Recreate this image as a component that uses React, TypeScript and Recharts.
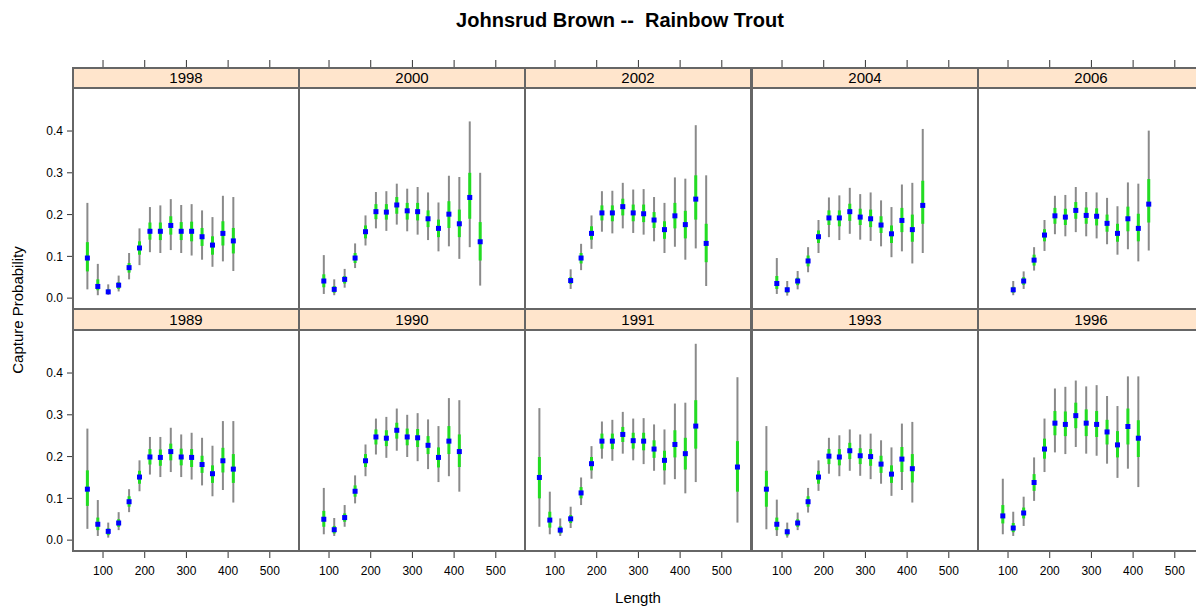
import React from 'react'
import { ComposedChart, Scatter, ErrorBar, XAxis, YAxis } from 'recharts'

// length classes (mm) and estimates
const len1998 = [62.5, 87.5, 112.5, 137.5, 162.5, 187.5, 212.5, 237.5, 262.5, 287.5, 312.5, 337.5, 362.5, 387.5, 412.5]
const est1998 = [0.096, 0.028, 0.015, 0.031, 0.073, 0.12, 0.16, 0.16, 0.174, 0.16, 0.16, 0.147, 0.127, 0.155, 0.137]
const ci1998 = [[0.021, 0.228], [0.007, 0.082], [0.008, 0.033], [0.016, 0.054], [0.045, 0.108], [0.079, 0.167], [0.11, 0.218], [0.108, 0.222], [0.115, 0.237], [0.108, 0.223], [0.102, 0.225], [0.092, 0.21], [0.075, 0.194], [0.088, 0.245], [0.065, 0.242]]
const se1998 = [[0.064, 0.134], [0.019, 0.045], [0.01, 0.021], [0.022, 0.038], [0.061, 0.084], [0.104, 0.136], [0.14, 0.181], [0.139, 0.181], [0.152, 0.196], [0.139, 0.182], [0.136, 0.183], [0.125, 0.168], [0.104, 0.148], [0.126, 0.184], [0.107, 0.168]]

const len2000 = [87.5, 112.5, 137.5, 162.5, 187.5, 212.5, 237.5, 262.5, 287.5, 312.5, 337.5, 362.5, 387.5, 412.5, 437.5, 462.5]
const est2000 = [0.041, 0.021, 0.045, 0.096, 0.159, 0.207, 0.206, 0.223, 0.209, 0.207, 0.19, 0.167, 0.201, 0.178, 0.241, 0.135]
const ci2000 = [[0.01, 0.103], [0.007, 0.045], [0.025, 0.07], [0.072, 0.131], [0.126, 0.198], [0.167, 0.254], [0.161, 0.256], [0.176, 0.274], [0.16, 0.262], [0.152, 0.266], [0.139, 0.253], [0.112, 0.229], [0.124, 0.293], [0.094, 0.29], [0.122, 0.423], [0.03, 0.3]]
const se2000 = [[0.026, 0.057], [0.013, 0.029], [0.035, 0.053], [0.084, 0.108], [0.143, 0.174], [0.189, 0.225], [0.188, 0.225], [0.202, 0.242], [0.188, 0.228], [0.186, 0.228], [0.17, 0.21], [0.146, 0.188], [0.168, 0.232], [0.146, 0.212], [0.19, 0.3], [0.09, 0.182]]

const len2002 = [137.5, 162.5, 187.5, 212.5, 237.5, 262.5, 287.5, 312.5, 337.5, 362.5, 387.5, 412.5, 437.5, 462.5]
const est2002 = [0.042, 0.096, 0.155, 0.204, 0.204, 0.219, 0.204, 0.202, 0.187, 0.164, 0.197, 0.176, 0.237, 0.131]
const ci2002 = [[0.022, 0.069], [0.067, 0.13], [0.118, 0.198], [0.159, 0.256], [0.155, 0.257], [0.167, 0.276], [0.156, 0.26], [0.152, 0.261], [0.136, 0.242], [0.108, 0.228], [0.123, 0.289], [0.092, 0.286], [0.119, 0.414], [0.029, 0.294]]
const se2002 = [[0.034, 0.05], [0.083, 0.108], [0.14, 0.172], [0.186, 0.222], [0.184, 0.222], [0.198, 0.238], [0.184, 0.224], [0.182, 0.224], [0.168, 0.206], [0.142, 0.184], [0.167, 0.228], [0.143, 0.209], [0.188, 0.294], [0.086, 0.178]]

const len2004 = [87.5, 112.5, 137.5, 162.5, 187.5, 212.5, 237.5, 262.5, 287.5, 312.5, 337.5, 362.5, 387.5, 412.5, 437.5]
const est2004 = [0.035, 0.02, 0.041, 0.089, 0.147, 0.192, 0.192, 0.207, 0.194, 0.19, 0.175, 0.154, 0.186, 0.164, 0.222]
const ci2004 = [[0.01, 0.096], [0.006, 0.041], [0.021, 0.065], [0.062, 0.122], [0.108, 0.187], [0.146, 0.241], [0.139, 0.246], [0.154, 0.264], [0.14, 0.249], [0.137, 0.253], [0.124, 0.234], [0.098, 0.218], [0.112, 0.272], [0.083, 0.276], [0.108, 0.405]]
const se2004 = [[0.022, 0.053], [0.013, 0.026], [0.031, 0.049], [0.076, 0.102], [0.132, 0.162], [0.175, 0.21], [0.172, 0.21], [0.185, 0.226], [0.175, 0.214], [0.17, 0.212], [0.156, 0.196], [0.132, 0.174], [0.158, 0.216], [0.135, 0.2], [0.178, 0.281]]

const len2006 = [112.5, 137.5, 162.5, 187.5, 212.5, 237.5, 262.5, 287.5, 312.5, 337.5, 362.5, 387.5, 412.5, 437.5]
const est2006 = [0.02, 0.041, 0.091, 0.151, 0.197, 0.194, 0.21, 0.198, 0.196, 0.179, 0.155, 0.19, 0.167, 0.225]
const ci2006 = [[0.007, 0.041], [0.022, 0.064], [0.066, 0.122], [0.113, 0.187], [0.153, 0.245], [0.148, 0.247], [0.158, 0.266], [0.148, 0.254], [0.143, 0.253], [0.129, 0.24], [0.104, 0.22], [0.117, 0.277], [0.088, 0.274], [0.114, 0.401]]
const se2006 = [[0.013, 0.027], [0.032, 0.05], [0.078, 0.104], [0.136, 0.165], [0.178, 0.216], [0.175, 0.214], [0.19, 0.23], [0.178, 0.217], [0.174, 0.215], [0.159, 0.2], [0.135, 0.178], [0.16, 0.219], [0.136, 0.202], [0.181, 0.285]]

const len1989 = [62.5, 87.5, 112.5, 137.5, 162.5, 187.5, 212.5, 237.5, 262.5, 287.5, 312.5, 337.5, 362.5, 387.5, 412.5]
const est1989 = [0.122, 0.038, 0.021, 0.041, 0.092, 0.151, 0.199, 0.198, 0.212, 0.199, 0.198, 0.181, 0.159, 0.19, 0.17]
const ci1989 = [[0.027, 0.267], [0.01, 0.096], [0.006, 0.042], [0.024, 0.067], [0.067, 0.122], [0.117, 0.191], [0.157, 0.247], [0.151, 0.247], [0.163, 0.269], [0.151, 0.253], [0.145, 0.257], [0.131, 0.245], [0.105, 0.226], [0.12, 0.285], [0.09, 0.285]]
const se1989 = [[0.082, 0.167], [0.024, 0.054], [0.012, 0.028], [0.032, 0.05], [0.08, 0.105], [0.135, 0.166], [0.181, 0.218], [0.178, 0.217], [0.191, 0.231], [0.179, 0.219], [0.175, 0.218], [0.161, 0.202], [0.137, 0.179], [0.162, 0.221], [0.137, 0.206]]

const len1990 = [87.5, 112.5, 137.5, 162.5, 187.5, 212.5, 237.5, 262.5, 287.5, 312.5, 337.5, 362.5, 387.5, 412.5]
const est1990 = [0.05, 0.025, 0.054, 0.117, 0.19, 0.247, 0.244, 0.263, 0.247, 0.245, 0.227, 0.198, 0.237, 0.212]
const ci1990 = [[0.014, 0.125], [0.01, 0.053], [0.032, 0.084], [0.088, 0.155], [0.153, 0.229], [0.205, 0.291], [0.197, 0.295], [0.214, 0.315], [0.199, 0.3], [0.189, 0.304], [0.17, 0.289], [0.139, 0.273], [0.153, 0.34], [0.116, 0.335]]
const se1990 = [[0.032, 0.07], [0.016, 0.034], [0.044, 0.064], [0.104, 0.131], [0.175, 0.206], [0.229, 0.265], [0.225, 0.263], [0.243, 0.281], [0.227, 0.267], [0.223, 0.266], [0.206, 0.249], [0.174, 0.222], [0.206, 0.273], [0.175, 0.253]]

const len1991 = [62.5, 87.5, 112.5, 137.5, 162.5, 187.5, 212.5, 237.5, 262.5, 287.5, 312.5, 337.5, 362.5, 387.5, 412.5, 437.5, 537.5]
const est1991 = [0.15, 0.048, 0.024, 0.051, 0.113, 0.183, 0.237, 0.237, 0.253, 0.238, 0.237, 0.218, 0.191, 0.229, 0.207, 0.273, 0.175]
const ci1991 = [[0.032, 0.316], [0.014, 0.116], [0.01, 0.052], [0.029, 0.08], [0.084, 0.15], [0.147, 0.225], [0.195, 0.284], [0.19, 0.288], [0.207, 0.307], [0.191, 0.291], [0.182, 0.292], [0.166, 0.277], [0.133, 0.265], [0.146, 0.327], [0.112, 0.329], [0.139, 0.47], [0.042, 0.39]]
const se1991 = [[0.1, 0.199], [0.03, 0.068], [0.016, 0.033], [0.041, 0.06], [0.1, 0.127], [0.167, 0.199], [0.219, 0.255], [0.218, 0.255], [0.235, 0.271], [0.219, 0.257], [0.215, 0.257], [0.197, 0.239], [0.167, 0.214], [0.198, 0.263], [0.169, 0.245], [0.219, 0.335], [0.116, 0.237]]

const len1993 = [62.5, 87.5, 112.5, 137.5, 162.5, 187.5, 212.5, 237.5, 262.5, 287.5, 312.5, 337.5, 362.5, 387.5, 412.5]
const est1993 = [0.122, 0.038, 0.02, 0.041, 0.092, 0.151, 0.201, 0.199, 0.214, 0.202, 0.2, 0.182, 0.158, 0.194, 0.171]
const ci1993 = [[0.026, 0.273], [0.01, 0.097], [0.006, 0.042], [0.024, 0.066], [0.066, 0.125], [0.118, 0.191], [0.159, 0.245], [0.153, 0.251], [0.166, 0.265], [0.154, 0.253], [0.146, 0.255], [0.135, 0.239], [0.106, 0.222], [0.12, 0.279], [0.09, 0.283]]
const se1993 = [[0.08, 0.166], [0.024, 0.054], [0.011, 0.027], [0.032, 0.05], [0.08, 0.105], [0.135, 0.166], [0.182, 0.218], [0.179, 0.218], [0.194, 0.233], [0.182, 0.22], [0.178, 0.218], [0.161, 0.202], [0.137, 0.179], [0.163, 0.223], [0.138, 0.206]]

const len1996 = [87.5, 112.5, 137.5, 162.5, 187.5, 212.5, 237.5, 262.5, 287.5, 312.5, 337.5, 362.5, 387.5, 412.5]
const est1996 = [0.058, 0.029, 0.065, 0.138, 0.218, 0.28, 0.277, 0.298, 0.28, 0.277, 0.259, 0.228, 0.272, 0.244]
const ci1996 = [[0.014, 0.147], [0.01, 0.068], [0.034, 0.104], [0.094, 0.198], [0.163, 0.291], [0.21, 0.363], [0.206, 0.367], [0.223, 0.382], [0.207, 0.368], [0.202, 0.371], [0.183, 0.345], [0.149, 0.321], [0.171, 0.392], [0.127, 0.392]]
const se1996 = [[0.04, 0.084], [0.019, 0.041], [0.052, 0.078], [0.118, 0.158], [0.195, 0.243], [0.251, 0.309], [0.249, 0.308], [0.268, 0.329], [0.249, 0.313], [0.247, 0.309], [0.229, 0.288], [0.198, 0.261], [0.229, 0.315], [0.199, 0.287]]

const X_TICKS = [100, 200, 300, 400, 500]
const Y_TICKS = [0, 0.1, 0.2, 0.3, 0.4]
const X_DOMAIN = [28, 570]
const Y_DOMAIN = [-0.026, 0.503]

const FONT = '"Liberation Sans", Arial, Helvetica, sans-serif'
const STRIP_BG = '#ffe5cc'
const FRAME = '#666'

const COL_LEFT = [73, 299, 525, 752, 978]
const PANEL_W = 226
const PLOT_H = 221
// [strip top, strip bottom / plot top, plot bottom]
const ROW_Y = [
  [68, 88, 309],
  [309, 330, 551],
]

const panels = [
  { year: '1998', len: len1998, est: est1998, ci: ci1998, se: se1998, row: 0, col: 0 },
  { year: '2000', len: len2000, est: est2000, ci: ci2000, se: se2000, row: 0, col: 1 },
  { year: '2002', len: len2002, est: est2002, ci: ci2002, se: se2002, row: 0, col: 2 },
  { year: '2004', len: len2004, est: est2004, ci: ci2004, se: se2004, row: 0, col: 3 },
  { year: '2006', len: len2006, est: est2006, ci: ci2006, se: se2006, row: 0, col: 4 },
  { year: '1989', len: len1989, est: est1989, ci: ci1989, se: se1989, row: 1, col: 0 },
  { year: '1990', len: len1990, est: est1990, ci: ci1990, se: se1990, row: 1, col: 1 },
  { year: '1991', len: len1991, est: est1991, ci: ci1991, se: se1991, row: 1, col: 2 },
  { year: '1993', len: len1993, est: est1993, ci: ci1993, se: se1993, row: 1, col: 3 },
  { year: '1996', len: len1996, est: est1996, ci: ci1996, se: se1996, row: 1, col: 4 },
]

const BlueSquare = (props: any) => {
  const { cx, cy } = props
  if (cx == null || cy == null) return null
  return <rect x={cx - 2.5} y={cy - 2.5} width={5} height={5} fill="#0000ff" />
}

function PanelChart({ p }: { p: (typeof panels)[number] }) {
  const rows = p.len.map((x, i) => ({
    x,
    est: p.est[i],
    ci: [p.est[i] - p.ci[i][0], p.ci[i][1] - p.est[i]],
    se: [p.est[i] - p.se[i][0], p.se[i][1] - p.est[i]],
  }))
  const isTop = p.row === 0
  const yw = p.col === 0 ? 40 : 0
  const xh = isTop ? 28 : 40
  const plotTop = ROW_Y[p.row][1]
  const chartTop = isTop ? plotTop - xh : plotTop
  const tickStyle = { fontSize: 12, fill: '#000', fontFamily: FONT }

  return (
    <div style={{ position: 'absolute', left: COL_LEFT[p.col] - yw, top: chartTop }}>
      <ComposedChart
        width={PANEL_W + yw}
        height={PLOT_H + xh}
        data={rows}
        margin={{ top: 0, right: 0, bottom: 0, left: 0 }}
      >
        <XAxis
          type="number"
          dataKey="x"
          domain={X_DOMAIN}
          allowDataOverflow
          ticks={X_TICKS}
          orientation={isTop ? 'top' : 'bottom'}
          height={xh}
          axisLine={false}
          tickSize={isTop ? 28 : 7}
          tickMargin={8}
          tickLine={{ stroke: '#333' }}
          tick={tickStyle}
          tickFormatter={(v: number) => (isTop ? '' : String(v))}
        />
        <YAxis
          type="number"
          dataKey="est"
          domain={Y_DOMAIN}
          allowDataOverflow
          ticks={Y_TICKS}
          hide={p.col !== 0}
          width={yw}
          axisLine={false}
          tickSize={6}
          tickMargin={4}
          tickLine={{ stroke: '#333' }}
          tick={tickStyle}
          tickFormatter={(v: number) => v.toFixed(1)}
        />
        <Scatter dataKey="est" shape={BlueSquare} isAnimationActive={false}>
          <ErrorBar dataKey="ci" direction="y" width={0} stroke="#8a8a8a" strokeWidth={2} isAnimationActive={false} />
          <ErrorBar dataKey="se" direction="y" width={0} stroke="#22dd22" strokeWidth={3} isAnimationActive={false} />
        </Scatter>
      </ComposedChart>
    </div>
  )
}

function PanelFrame({ p }: { p: (typeof panels)[number] }) {
  const [stripTop, plotTop, plotBottom] = ROW_Y[p.row]
  const left = COL_LEFT[p.col]
  return (
    <>
      <div
        style={{
          position: 'absolute',
          left: left - 1,
          top: stripTop - 1,
          width: PANEL_W + 2,
          height: plotTop - stripTop + 2,
          boxSizing: 'border-box',
          border: `2px solid ${FRAME}`,
          background: STRIP_BG,
          fontSize: 15,
          lineHeight: `${plotTop - stripTop - 2}px`,
          textAlign: 'center',
          color: '#000',
        }}
      >
        {p.year}
      </div>
      <div
        style={{
          position: 'absolute',
          left: left - 1,
          top: plotTop - 1,
          width: PANEL_W + 2,
          height: plotBottom - plotTop + 2,
          boxSizing: 'border-box',
          border: `2px solid ${FRAME}`,
        }}
      />
    </>
  )
}

export default function App() {
  return (
    <div
      style={{
        position: 'absolute',
        left: 0,
        top: 0,
        width: 1196,
        height: 609,
        overflow: 'hidden',
        background: '#fff',
        fontFamily: FONT,
      }}
    >
      <div
        style={{
          position: 'absolute',
          left: 320,
          top: 8,
          width: 600,
          textAlign: 'center',
          fontSize: 20,
          fontWeight: 'bold',
          whiteSpace: 'pre',
          lineHeight: '24px',
        }}
      >
        {'Johnsrud Brown --  Rainbow Trout'}
      </div>

      {panels.map((p) => (
        <PanelChart key={p.year} p={p} />
      ))}
      {panels.map((p) => (
        <PanelFrame key={p.year} p={p} />
      ))}

      <div
        style={{
          position: 'absolute',
          left: 18 - 150,
          top: 310 - 10,
          width: 300,
          height: 20,
          lineHeight: '20px',
          textAlign: 'center',
          fontSize: 15,
          transform: 'rotate(-90deg)',
          transformOrigin: 'center',
        }}
      >
        Capture Probability
      </div>
      <div
        style={{
          position: 'absolute',
          left: 638 - 100,
          top: 589,
          width: 200,
          textAlign: 'center',
          fontSize: 15,
          lineHeight: '18px',
        }}
      >
        Length
      </div>
    </div>
  )
}
